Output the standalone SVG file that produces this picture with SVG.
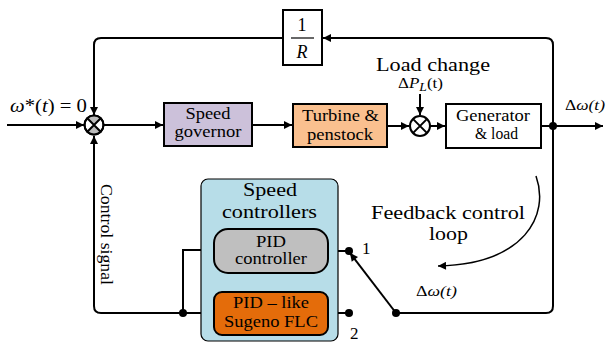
<svg xmlns="http://www.w3.org/2000/svg" width="606" height="343" viewBox="0 0 606 343">
<defs>
<marker id="ar" viewBox="0 0 10 10" refX="10" refY="5" markerWidth="9" markerHeight="8" markerUnits="userSpaceOnUse" orient="auto">
<path d="M0,0 L10,5 L0,10 Z" fill="#000"/>
</marker>
</defs>
<rect width="606" height="343" fill="#fff"/>

<g id="connectors" fill="none" stroke="#000" stroke-width="2">
<path d="M7,125 H84" marker-end="url(#ar)"/>
<path d="M396,313 H546 Q553,313 553,306 V45 Q553,38 546,38 H323" marker-end="url(#ar)"/>
<path d="M283,38 H101 Q94,38 94,45 V115" marker-end="url(#ar)"/>
<path d="M104,125 H163" marker-end="url(#ar)"/>
<path d="M252,125 H292" marker-end="url(#ar)"/>
<path d="M387,126 H409" marker-end="url(#ar)"/>
<path d="M420,94 V115" marker-end="url(#ar)"/>
<path d="M430,126 H445" marker-end="url(#ar)"/>
<path d="M541,126 H603" marker-end="url(#ar)"/>
<path d="M214,313 H101 Q94,313 94,306 V136" marker-end="url(#ar)"/>
<path d="M214,250 H183 V313"/>
<path d="M328,251 H349"/>
<path d="M328,313 H349"/>
<path d="M396,313 L350,253" marker-end="url(#ar)"/>
<path stroke-width="1.5" d="M536,176 C550,215 525,264 438,266" marker-end="url(#ar)"/>
<g fill="#000" stroke="none">
<circle cx="183" cy="313" r="4"/>
<circle cx="349" cy="251" r="4"/>
<circle cx="349" cy="313" r="4"/>
<circle cx="396" cy="313" r="4"/>
<circle cx="553" cy="126" r="4"/>
</g>
</g>

<g id="sum1" stroke="#000" stroke-width="2">
<circle cx="94" cy="125" r="9.5" fill="#fff"/>
<path d="M87.3,118.3 A9.5,9.5 0 0 1 100.7,118.3 L94,125 Z" fill="#bbb" stroke="none"/>
<path d="M87.3,131.7 A9.5,9.5 0 0 0 100.7,131.7 L94,125 Z" fill="#bbb" stroke="none"/>
<path fill="none" d="M87.3,118.3 L100.7,131.7 M100.7,118.3 L87.3,131.7"/>
<circle cx="94" cy="125" r="9.5" fill="none"/>
</g>

<g id="sum2" stroke="#000" stroke-width="2">
<circle cx="420" cy="126" r="10" fill="#fff"/>
<path fill="none" d="M412.9,118.9 L427.1,133.1 M427.1,118.9 L412.9,133.1"/>
</g>

<g id="gain" font-family="Liberation Serif">
<rect x="283" y="10" width="39" height="55" fill="#fff" stroke="#000" stroke-width="2"/>
<text x="302" y="31" font-size="18" text-anchor="middle">1</text>
<line x1="291" y1="38" x2="314" y2="38" stroke="#000" stroke-width="1.2"/>
<text x="302" y="58" font-size="18" font-style="italic" text-anchor="middle">R</text>
</g>

<g id="governor" font-family="Liberation Serif" font-size="17">
<rect x="164" y="103" width="88" height="43" fill="#CCC1DA" stroke="#000" stroke-width="2"/>
<text x="185.5" y="119" textLength="45" lengthAdjust="spacingAndGlyphs">Speed</text>
<text x="174.5" y="137" textLength="67" lengthAdjust="spacingAndGlyphs">governor</text>
</g>

<g id="turbine" font-family="Liberation Serif" font-size="17">
<rect x="293" y="104" width="94" height="43" fill="#FAC08F" stroke="#000" stroke-width="2"/>
<text x="302" y="121" textLength="77" lengthAdjust="spacingAndGlyphs">Turbine &amp;</text>
<text x="307" y="140" textLength="66" lengthAdjust="spacingAndGlyphs">penstock</text>
</g>

<g id="generator" font-family="Liberation Serif" font-size="17">
<rect x="446" y="104" width="95" height="44" fill="#fff" stroke="#000" stroke-width="2"/>
<text x="456" y="121" textLength="74" lengthAdjust="spacingAndGlyphs">Generator</text>
<text x="475" y="139" textLength="43" lengthAdjust="spacingAndGlyphs">&amp; load</text>
</g>

<g id="controllers" font-family="Liberation Serif" font-size="19">
<rect x="201" y="179" width="137" height="162" rx="7" fill="#B7DDE8" stroke="#000" stroke-width="1.2"/>
<text x="243" y="196" textLength="54" lengthAdjust="spacingAndGlyphs">Speed</text>
<text x="222" y="218" textLength="95" lengthAdjust="spacingAndGlyphs">controllers</text>
</g>

<g id="pid" font-family="Liberation Serif" font-size="16">
<rect x="214" y="229" width="114" height="44" rx="14" fill="#BFBFBF" stroke="#000" stroke-width="2"/>
<text x="256" y="247" textLength="30" lengthAdjust="spacingAndGlyphs">PID</text>
<text x="235" y="264" textLength="72" lengthAdjust="spacingAndGlyphs">controller</text>
</g>

<g id="flc" font-family="Liberation Serif" font-size="16">
<rect x="214" y="292" width="114" height="43" rx="8" fill="#E46C0A" stroke="#000" stroke-width="2"/>
<text x="233" y="308" textLength="76" lengthAdjust="spacingAndGlyphs">PID – like</text>
<text x="224" y="327" textLength="94" lengthAdjust="spacingAndGlyphs">Sugeno FLC</text>
</g>

<g id="labels" font-family="Liberation Serif">
<text x="10" y="112" font-size="18" textLength="77" lengthAdjust="spacingAndGlyphs"><tspan font-style="italic">ω</tspan>*(<tspan font-style="italic">t</tspan>) = 0</text>
<text x="376" y="71" font-size="18" textLength="114" lengthAdjust="spacingAndGlyphs">Load change</text>
<text x="398" y="88" font-size="15" textLength="45" lengthAdjust="spacingAndGlyphs">Δ<tspan font-style="italic">P</tspan><tspan font-style="italic" font-size="12" dy="3">L</tspan><tspan dy="-3">(t)</tspan></text>
<text x="565" y="110" font-size="14" font-style="italic" textLength="40" lengthAdjust="spacingAndGlyphs"><tspan font-style="normal">Δ</tspan>ω(t)</text>
<text x="416" y="296" font-size="14" font-style="italic" textLength="41" lengthAdjust="spacingAndGlyphs"><tspan font-style="normal">Δ</tspan>ω(t)</text>
<text x="371" y="219" font-size="18" textLength="154" lengthAdjust="spacingAndGlyphs">Feedback control</text>
<text x="429" y="240" font-size="18" textLength="39" lengthAdjust="spacingAndGlyphs">loop</text>
<text x="362" y="254" font-size="17">1</text>
<text x="350" y="339" font-size="17">2</text>
<text font-size="17" transform="translate(101,184) rotate(90)" textLength="101" lengthAdjust="spacingAndGlyphs">Control signal</text>
</g>
</svg>
